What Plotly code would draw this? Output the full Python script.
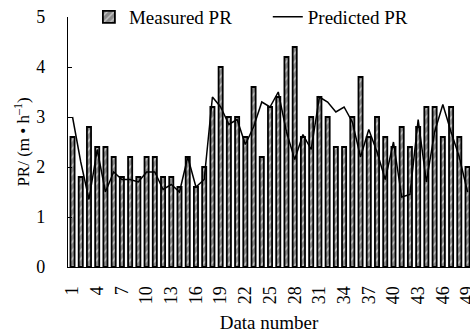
import plotly.graph_objects as go

# Sample index 1..49
data_number = list(range(1, 50))

# Measured penetration rate (m/h)
measured_pr = [2.6, 1.8, 2.8, 2.4, 2.4, 2.2, 1.8, 2.2, 1.8, 2.2,
               2.2, 1.8, 1.8, 1.6, 2.2, 1.6, 2.0, 3.2, 4.0, 3.0,
               3.0, 2.6, 3.6, 2.2, 3.2, 3.4, 4.2, 4.4, 2.6, 3.0,
               3.4, 3.0, 2.4, 2.4, 3.0, 3.8, 2.6, 3.0, 2.6, 2.4,
               2.8, 2.4, 2.8, 3.2, 3.2, 2.6, 3.2, 2.6, 2.0]

# Model-predicted penetration rate (m/h)
predicted_pr = [3.0, 2.1, 1.35, 2.35, 1.5, 1.9, 1.75, 1.75, 1.7, 1.9,
                1.9, 1.55, 1.65, 1.5, 2.2, 1.6, 1.75, 3.4, 3.2, 2.85,
                2.95, 2.45, 2.8, 3.3, 3.2, 3.5, 2.7, 2.15, 2.65, 2.35,
                3.4, 3.3, 3.1, 3.2, 2.9, 2.2, 2.75, 2.3, 1.75, 2.5,
                1.4, 1.45, 2.95, 1.7, 2.7, 3.25, 2.7, 2.2, 1.5]

x_tick_vals = list(range(1, 50, 3))
y_tick_vals = [0, 1, 2, 3, 4, 5]

FONT = "Liberation Serif"

fig = go.Figure()
fig.add_trace(go.Bar(
    x=data_number, y=measured_pr, name="Measured PR",
    width=0.5, legend="legend",
    marker=dict(
        color="#8a8a8a",
        line=dict(color="black", width=1.8),
        pattern=dict(shape="/", bgcolor="#8a8a8a", fgcolor="white",
                     size=6, solidity=0.3),
    ),
))
fig.add_trace(go.Scatter(
    x=data_number, y=predicted_pr, name="Predicted PR",
    mode="lines", line=dict(color="black", width=1.5), legend="legend2",
))

legend_style = dict(
    orientation="h", y=1.0, xanchor="left", yanchor="middle",
    bgcolor="rgba(0,0,0,0)", font=dict(family=FONT, size=19),
)

fig.update_layout(
    width=470, height=333,
    margin=dict(l=68, r=0, t=17, b=66, autoexpand=False),
    plot_bgcolor="white", paper_bgcolor="white",
    font=dict(family=FONT, size=18, color="black"),
    showlegend=True,
    legend=dict(x=0.052, **legend_style),
    legend2=dict(x=0.497, **legend_style),
    xaxis=dict(
        range=[0.45, 49.3],
        tickmode="array", tickvals=x_tick_vals,
        ticktext=[str(v) for v in x_tick_vals],
        tickangle=-90, tickfont=dict(family=FONT, size=18),
        ticklabeloverflow="allow",
        showline=True, linecolor="black", linewidth=1.2,
        ticks="outside", ticklen=11, tickcolor="rgba(0,0,0,0)",
        showgrid=False, zeroline=False,
        automargin=False,
        title=dict(text="Data number", font=dict(family=FONT, size=19), standoff=12),
    ),
    yaxis=dict(
        range=[0, 5],
        tickmode="array", tickvals=y_tick_vals,
        ticktext=[str(v) + "    " for v in y_tick_vals],
        tickfont=dict(family=FONT, size=18),
        showline=True, linecolor="black", linewidth=1.2,
        ticks="inside", ticklen=4, tickcolor="black", tickwidth=1.2,
        showgrid=False, zeroline=False,
        automargin=False,
        title=dict(text="PR/ (m • h<sup>–1</sup>)", font=dict(family=FONT, size=17), standoff=2),
    ),
)

fig.write_html("out.html")
